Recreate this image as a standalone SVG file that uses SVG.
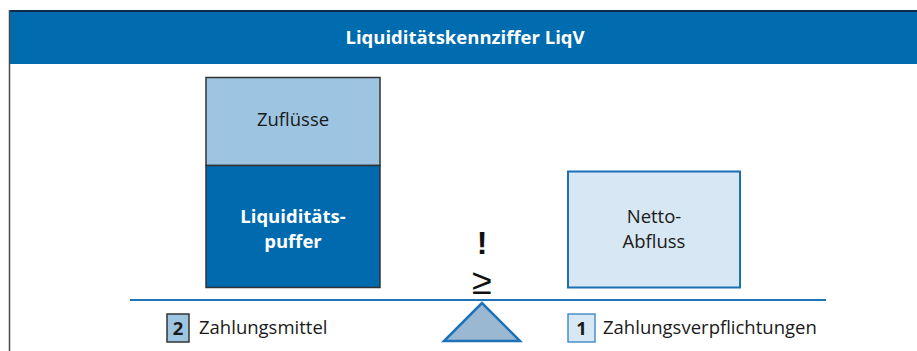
<svg xmlns="http://www.w3.org/2000/svg" width="917" height="351" viewBox="0 0 917 351">
<style>
.t{font-family:"Open Sans","Liberation Sans",sans-serif;font-size:18.5px;fill:#1a1a1a}
.b{font-weight:bold;fill:#fff}
.c{text-anchor:middle}
</style>
<rect width="917" height="351" fill="#fff"/>
<g id="frame">
<rect x="10" y="11" width="907" height="53" fill="#006cb0"/>
<line x1="9" y1="11" x2="917" y2="11" stroke="#0c2b4a" stroke-width="2"/>
<line x1="9.5" y1="10" x2="9.5" y2="351" stroke="#4a4a4a" stroke-width="1.5"/>
<text class="t b c" x="465" y="44" font-size="17.2">Liquiditätskennziffer LiqV</text>
</g>
<g id="zufluesse">
<rect x="206" y="77.5" width="174" height="88" fill="#9dc5e1" stroke="#333" stroke-width="1.5"/>
<text class="t c" x="293" y="126">Zuflüsse</text>
</g>
<g id="puffer">
<rect x="206" y="165.5" width="174" height="122" fill="#006aae" stroke="#333" stroke-width="1.5"/>
<text class="t b c" x="293" y="223">Liquiditäts-</text>
<text class="t b c" x="293" y="248">puffer</text>
</g>
<g id="netto">
<rect x="568" y="171.5" width="172" height="116" fill="#d7e7f3" stroke="#1a70b5" stroke-width="2"/>
<text class="t c" x="654" y="223">Netto-</text>
<text class="t c" x="654" y="248">Abfluss</text>
</g>
<g id="connectors">
<line x1="130" y1="300" x2="826" y2="300" stroke="#1e73b9" stroke-width="2"/>
</g>
<g id="waage">
<polygon points="482,303 444,341 520,341" fill="#9ab8d2" stroke="#1f72b8" stroke-width="2.5" stroke-linejoin="miter"/>
<text x="482" y="254" text-anchor="middle" font-family="Liberation Sans,sans-serif" font-weight="bold" font-size="32" fill="#111">!</text>
<text x="482" y="294" text-anchor="middle" font-family="Liberation Sans,sans-serif" font-size="36" fill="#111">≥</text>
</g>
<g id="legend2">
<rect x="167" y="314" width="22" height="28" fill="#9dc5e1" stroke="#333" stroke-width="1.5"/>
<text class="t c" x="178" y="335" font-weight="bold" fill="#111">2</text>
<text class="t" x="199" y="334">Zahlungsmittel</text>
</g>
<g id="legend1">
<rect x="568" y="314" width="27" height="28" fill="#d7e7f3" stroke="#4a90c8" stroke-width="1.5"/>
<text class="t c" x="581.5" y="335" font-weight="bold" fill="#111">1</text>
<text class="t" x="603" y="334">Zahlungsverpflichtungen</text>
</g>
</svg>
